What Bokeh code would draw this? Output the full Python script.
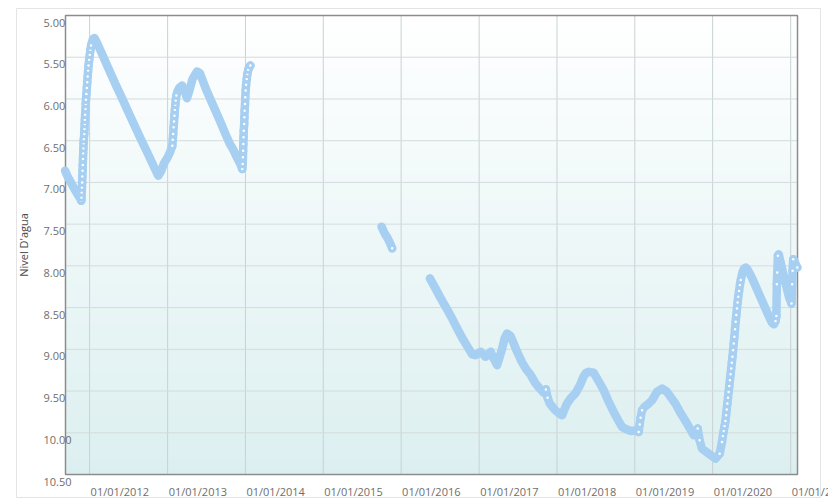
import numpy as np
import pandas as pd
from bokeh.plotting import figure
from bokeh.models import Range1d, ColumnDataSource
from bokeh.embed import file_html
from bokeh.resources import INLINE
from bokeh.core.properties import value

# ---------------- data ----------------
seg1_dates = [
    "2011-09-08", "2011-09-20", "2011-10-05", "2011-10-20", "2011-11-05", "2011-11-15", "2011-11-23",
    "2011-11-24", "2011-11-25", "2011-11-26", "2011-11-27", "2011-11-28", "2011-11-29", "2011-11-30",
    "2011-12-01", "2011-12-02", "2011-12-03", "2011-12-04", "2011-12-05", "2011-12-07", "2011-12-08",
    "2011-12-09", "2011-12-10", "2011-12-11", "2011-12-13", "2011-12-14", "2011-12-15", "2011-12-17",
    "2011-12-19", "2011-12-21", "2011-12-23", "2011-12-25", "2011-12-27", "2011-12-30", "2012-01-02",
    "2012-01-05", "2012-01-08", "2012-01-12", "2012-01-17", "2012-01-24", "2012-02-05", "2012-03-01",
    "2012-04-01", "2012-05-01", "2012-06-01", "2012-07-01", "2012-08-01", "2012-09-01", "2012-10-01",
    "2012-11-01", "2012-11-18", "2012-12-02", "2012-12-15", "2013-01-01", "2013-01-15", "2013-01-23",
    "2013-01-25", "2013-01-27", "2013-01-29", "2013-01-31", "2013-02-02", "2013-02-04", "2013-02-06",
    "2013-02-08", "2013-02-11", "2013-02-16", "2013-02-24", "2013-03-10", "2013-03-22", "2013-04-02",
    "2013-04-15", "2013-04-28", "2013-05-19", "2013-06-01", "2013-07-01", "2013-08-01", "2013-09-01",
    "2013-10-01", "2013-10-20", "2013-11-01", "2013-11-20", "2013-12-08", "2013-12-17", "2013-12-19",
    "2013-12-20", "2013-12-21", "2013-12-22", "2013-12-23", "2013-12-24", "2013-12-26", "2013-12-27",
    "2013-12-28", "2013-12-30", "2013-12-31", "2014-01-02", "2014-01-04", "2014-01-07", "2014-01-10",
    "2014-01-14", "2014-01-19", "2014-01-24",
]
seg1_levels = [
    6.86, 6.93, 7.00, 7.07, 7.14, 7.18, 7.22,
    7.18, 7.12, 7.06, 7.00, 6.93, 6.86, 6.79,
    6.72, 6.65, 6.59, 6.53, 6.48, 6.42, 6.36,
    6.30, 6.25, 6.19, 6.12, 6.06, 6.01, 5.94,
    5.87, 5.80, 5.73, 5.66, 5.60, 5.53, 5.47,
    5.41, 5.36, 5.32, 5.28, 5.27, 5.33, 5.47,
    5.65, 5.82, 5.99, 6.16, 6.33, 6.50, 6.66,
    6.83, 6.92, 6.86, 6.77, 6.70, 6.62, 6.56,
    6.49, 6.42, 6.34, 6.27, 6.20, 6.13, 6.07,
    6.02, 5.96, 5.91, 5.87, 5.84, 5.91, 5.99,
    5.88, 5.76, 5.67, 5.69, 5.89, 6.07, 6.25,
    6.43, 6.54, 6.59, 6.69, 6.78, 6.84, 6.78,
    6.70, 6.62, 6.54, 6.46, 6.38, 6.30, 6.22,
    6.14, 6.06, 5.98, 5.90, 5.83, 5.76, 5.70,
    5.65, 5.62, 5.60,
]

seg2_dates = ["2015-10-01", "2015-10-10", "2015-10-20", "2015-10-28", "2015-11-05", "2015-11-12", "2015-11-20"]
seg2_levels = [7.53, 7.58, 7.63, 7.66, 7.70, 7.74, 7.79]

seg3_dates = [
    "2016-05-15", "2016-06-10", "2016-07-05", "2016-08-01", "2016-08-25", "2016-09-20", "2016-10-15",
    "2016-11-10", "2016-11-29", "2016-12-15", "2017-01-08", "2017-01-20", "2017-01-31", "2017-02-12",
    "2017-02-24", "2017-03-08", "2017-03-26", "2017-04-06", "2017-04-19", "2017-04-30", "2017-05-12",
    "2017-05-28", "2017-06-12", "2017-06-28", "2017-07-20", "2017-08-10", "2017-08-29", "2017-09-20",
    "2017-10-12", "2017-10-31", "2017-11-10", "2017-11-18", "2017-11-28", "2017-12-24", "2018-01-12",
    "2018-01-25", "2018-02-05", "2018-02-17", "2018-03-08", "2018-03-28", "2018-04-19", "2018-05-05",
    "2018-05-18", "2018-05-30", "2018-06-22", "2018-07-15", "2018-08-08", "2018-08-30", "2018-09-24",
    "2018-10-15", "2018-11-02", "2018-11-25", "2018-12-15", "2019-01-05", "2019-01-19", "2019-01-24",
    "2019-01-28", "2019-02-04", "2019-02-15", "2019-03-07", "2019-03-23", "2019-04-15", "2019-05-09",
    "2019-06-01", "2019-07-10", "2019-08-05", "2019-09-03", "2019-10-04", "2019-10-15", "2019-10-23",
    "2019-11-01", "2019-11-12", "2019-12-13", "2020-01-14", "2020-02-03", "2020-02-14", "2020-02-18",
    "2020-02-22", "2020-02-26", "2020-03-01", "2020-03-04", "2020-03-07", "2020-03-10", "2020-03-13",
    "2020-03-16", "2020-03-19", "2020-03-22", "2020-03-25", "2020-03-28", "2020-03-31", "2020-04-03",
    "2020-04-06", "2020-04-09", "2020-04-12", "2020-04-15", "2020-04-18", "2020-04-21", "2020-04-24",
    "2020-04-27", "2020-04-30", "2020-05-04", "2020-05-08", "2020-05-12", "2020-05-17", "2020-05-22",
    "2020-05-28", "2020-06-04", "2020-06-12", "2020-07-01", "2020-08-01", "2020-09-01", "2020-09-20",
    "2020-10-05", "2020-10-15", "2020-10-22", "2020-10-26", "2020-10-28", "2020-10-30", "2020-11-02",
    "2020-11-06", "2020-11-15", "2020-11-25", "2020-12-05", "2020-12-15", "2020-12-25", "2021-01-05",
    "2021-01-08", "2021-01-10", "2021-01-13", "2021-01-20", "2021-01-28", "2021-02-01",
]
seg3_levels = [
    8.15, 8.27, 8.39, 8.51, 8.62, 8.75, 8.87,
    8.98, 9.06, 9.07, 9.03, 9.06, 9.09, 9.06,
    9.03, 9.10, 9.19, 9.10, 8.99, 8.87, 8.81,
    8.84, 8.93, 9.03, 9.15, 9.24, 9.30, 9.40,
    9.47, 9.52, 9.48, 9.58, 9.65, 9.73, 9.77,
    9.79, 9.72, 9.65, 9.58, 9.53, 9.43, 9.33,
    9.28, 9.27, 9.28, 9.38, 9.49, 9.62, 9.75,
    9.85, 9.93, 9.96, 9.98, 9.97, 9.99, 9.90,
    9.82, 9.73, 9.69, 9.65, 9.61, 9.51, 9.47,
    9.51, 9.65, 9.77, 9.89, 10.03, 10.00, 9.95,
    10.09, 10.19, 10.25, 10.31, 10.25, 10.11, 10.04,
    9.98, 9.92, 9.86, 9.79, 9.72, 9.65, 9.58,
    9.51, 9.44, 9.37, 9.30, 9.23, 9.16, 9.09,
    9.01, 8.93, 8.85, 8.76, 8.67, 8.59, 8.51,
    8.44, 8.37, 8.30, 8.23, 8.17, 8.11, 8.06,
    8.03, 8.02, 8.04, 8.13, 8.31, 8.49, 8.60,
    8.68, 8.70, 8.66, 8.60, 8.22, 8.08, 7.88,
    7.86, 7.96, 8.07, 8.18, 8.28, 8.38, 8.45,
    8.22, 8.06, 7.92, 7.95, 8.00, 8.02,
]

x_tick_labels = ["01/01/2012", "01/01/2013", "01/01/2014", "01/01/2015", "01/01/2016",
                 "01/01/2017", "01/01/2018", "01/01/2019", "01/01/2020", "01/01/2021"]
y_tick_labels = ["5.00", "5.50", "6.00", "6.50", "7.00", "7.50", "8.00",
                 "8.50", "9.00", "9.50", "10.00", "10.50"]
y_title = "Nivel D'agua"

# ---------------- layout / styling ----------------
W, H = 828, 499
PLOT_L, PLOT_R, PLOT_T, PLOT_B = 65, 797, 15, 474     # pixel box of the chart area
BLUE = "#a7cff2"
FONT = value("Open Sans")
LABEL_COLOR = "#6e6e6e"

x_start = pd.Timestamp("2011-09-10")
x_end = pd.Timestamp("2021-02-02")
y_top, y_bottom = 5.0, 10.5


def ms(ts):
    return pd.Timestamp(ts).value / 1e6


MS_PER_PX = (ms(x_end) - ms(x_start)) / (PLOT_R - PLOT_L)
U_PER_PX = (y_bottom - y_top) / (PLOT_B - PLOT_T)


def px_x(px):
    return ms(x_start) + (px - PLOT_L) * MS_PER_PX


def px_y(py):
    return y_top + (py - PLOT_T) * U_PER_PX


p = figure(width=W, height=H,
           x_range=Range1d(px_x(0), px_x(W)),
           y_range=Range1d(px_y(H), px_y(0)),
           x_axis_type="datetime",
           output_backend="svg", toolbar_location=None,
           min_border=0, min_border_left=0, min_border_right=0,
           min_border_top=0, min_border_bottom=0,
           background_fill_color="#ffffff", border_fill_color="#ffffff")
p.xaxis.visible = False
p.yaxis.visible = False
p.xgrid.visible = False
p.ygrid.visible = False
p.outline_line_color = None

# light container box
p.quad(left=[px_x(16)], right=[px_x(820)], top=[px_y(8)], bottom=[px_y(497)],
       fill_color=None, line_color="#e4e4e4", line_width=1, level="image")

# vertical gradient background (white -> pale teal)
n_bands = 55
edges = np.linspace(y_top, y_bottom, n_bands + 1)
c_top = np.array([255, 255, 255])
c_bot = np.array([220, 239, 240])
cols = []
for i in range(n_bands):
    f = (i + 0.5) / n_bands
    c = (c_top * (1 - f) + c_bot * f).round().astype(int)
    cols.append("#%02x%02x%02x" % tuple(c))
band_src = ColumnDataSource(dict(top=edges[:-1], bottom=edges[1:] + 0.012 * (np.arange(n_bands) < n_bands - 1),
                                 left=[ms(x_start)] * n_bands, right=[ms(x_end)] * n_bands,
                                 color=cols))
p.quad(top="top", bottom="bottom", left="left", right="right", fill_color="color",
       line_color=None, source=band_src, level="image")

# grid lines, limited to the chart area
year_ticks = [ms(pd.Timestamp(year=int(s[-4:]), month=1, day=1)) for s in x_tick_labels]
y_ticks = [float(s) for s in y_tick_labels]
vgrid = ColumnDataSource(dict(x=year_ticks, y0=[y_top] * len(year_ticks), y1=[y_bottom] * len(year_ticks)))
p.segment(x0="x", x1="x", y0="y0", y1="y1", source=vgrid, line_color="#c9d2d4", line_width=1,
          level="underlay")
hgrid = ColumnDataSource(dict(y=y_ticks, x0=[ms(x_start)] * len(y_ticks), x1=[ms(x_end)] * len(y_ticks)))
p.segment(x0="x0", x1="x1", y0="y", y1="y", source=hgrid, line_color="#d3dcdd", line_width=1,
          level="underlay")

# chart-area border
p.quad(left=[ms(x_start)], right=[ms(x_end)], top=[y_top], bottom=[y_bottom],
       fill_color=None, line_color="#8c8c8c", line_width=1.5, level="underlay")

# series
for dates, levels in [(seg1_dates, seg1_levels), (seg2_dates, seg2_levels), (seg3_dates, seg3_levels)]:
    d = pd.to_datetime(pd.Series(dates))
    v = np.array(levels, dtype=float)
    src = ColumnDataSource(dict(x=d, y=v))
    p.line("x", "y", source=src, line_color=BLUE, line_width=8.5,
           line_join="round", line_cap="round")
    # single readings are visible as rings where the level changes fast
    days = d.diff().dt.days.to_numpy(dtype=float)
    rate = np.abs(np.diff(v)) / days[1:] * 365.0
    fast = np.zeros(len(v), dtype=bool)
    fast[:-1] |= rate > 4.5
    fast[1:] |= rate > 4.5
    fast[-1] = True
    ring_src = ColumnDataSource(dict(x=d[fast], y=v[fast]))
    p.scatter("x", "y", source=ring_src, marker="circle", size=5.5,
              fill_color="#ffffff", line_color=BLUE, line_width=3)

# tick labels: left aligned, x labels start at their gridline, y labels sit just below theirs
xl_src = ColumnDataSource(dict(x=[t + 1 * MS_PER_PX for t in year_ticks],
                               y=[y_bottom + 17 * U_PER_PX] * len(year_ticks),
                               text=x_tick_labels))
p.text("x", "y", text="text", source=xl_src, text_align="left", text_baseline="middle",
       text_font=FONT, text_font_size="11px", text_color=LABEL_COLOR)
yl_src = ColumnDataSource(dict(x=[px_x(43)] * len(y_ticks),
                               y=[v + 7 * U_PER_PX for v in y_ticks],
                               text=y_tick_labels))
p.text("x", "y", text="text", source=yl_src, text_align="left", text_baseline="middle",
       text_font=FONT, text_font_size="11px", text_color=LABEL_COLOR)
p.text(x=[px_x(23)], y=[(y_top + y_bottom) / 2], text=[y_title], angle=np.pi / 2,
       text_align="center", text_baseline="middle",
       text_font=FONT, text_font_size="11px", text_color="#4a4a4a")

open("out.html", "w").write(file_html(p, INLINE))
